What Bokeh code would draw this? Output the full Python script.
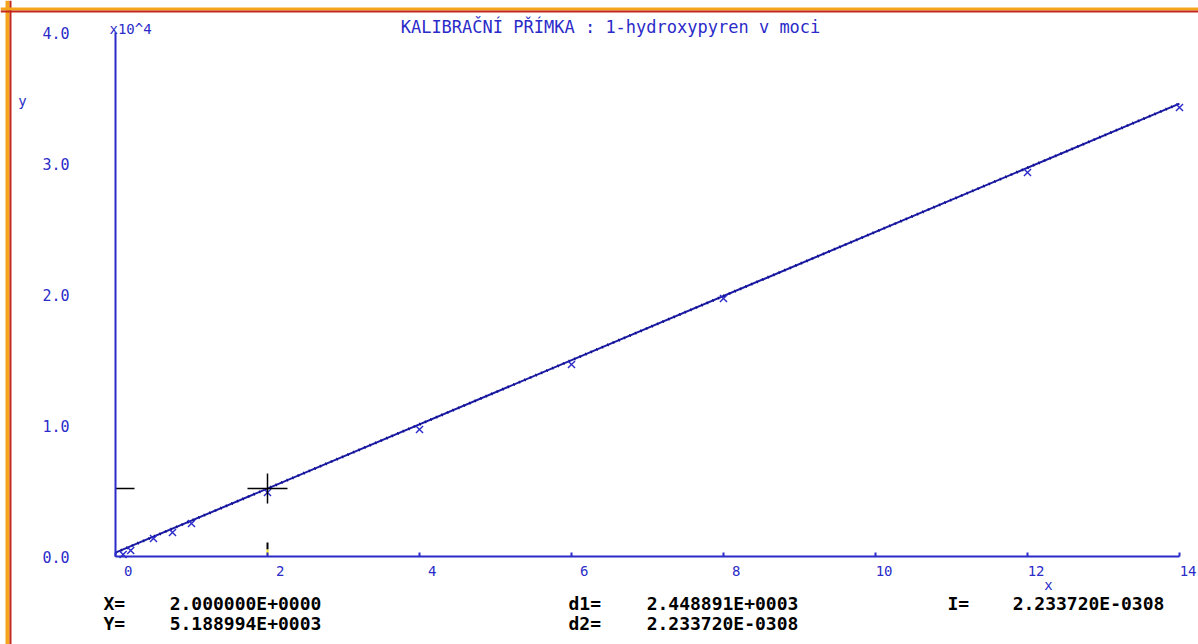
from math import pi

from bokeh.core.properties import value
from bokeh.embed import file_html
from bokeh.models import FixedTicker, LinearAxis, Range1d, Span
from bokeh.plotting import figure
from bokeh.resources import INLINE

# ---- calibration standards (concentration vs. detector response) ----
conc = [0.1, 0.2, 0.5, 0.75, 1.0, 2.0, 4.0, 6.0, 8.0, 12.0, 14.0]
signal = [150, 460, 1370, 1830, 2520, 4890, 9690, 14660, 19690, 29310, 34270]

# ---- regression slope and cursor readout ----
slope_d1 = 2448.891
cursor_x = 2.0
cursor_y = 5188.994
fit_x = [0.0, 14.0]

# ---- axis ticks and labels ----
x_ticks = [0, 2, 4, 6, 8, 10, 12, 14]
x_tick_labels = ["0", "2", "4", "6", "8", "10", "12", "14"]
y_ticks = [0, 10000, 20000, 30000, 40000]
y_tick_labels = ["0.0", "1.0", "2.0", "3.0", "4.0"]

title_text = "KALIBRAČNÍ PŘÍMKA : 1-hydroxypyren v moci"
readout_keys = ["X=", "Y=", "d1=", "d2=", "I="]
readout_values = ["2.000000E+0000", "5.188994E+0003", "2.448891E+0003",
                  "2.233720E-0308", "2.233720E-0308"]

# ---- canvas geometry (pixels) ----
W, H = 1198, 644
PX_X0, PX_PER_X = 115, 76.0          # x = 0 sits at 115 px, 76 px per unit
PX_Y0, PX_PER_Y = 556, 131.0 / 1e4   # y = 0 sits at 556 px, 131 px per 10^4


def sx(px):
    return (px - PX_X0) / PX_PER_X


def sy(py):
    return (PX_Y0 - py) / PX_PER_Y


BLUE = "#2b2bc9"
LINE_BLUE = "#1a1aa6"
ORANGE = "#f4a51c"
RED = "#c4281c"
MONO = value("DejaVu Sans Mono")

p = figure(width=W, height=H,
           x_range=Range1d(sx(0), sx(W)), y_range=Range1d(sy(H), sy(0)),
           x_axis_location=None, y_axis_location=None,
           toolbar_location=None, output_backend="svg", min_border=0,
           background_fill_color="white", border_fill_color="white")
p.outline_line_color = None
p.grid.visible = False

# axes crossing at the origin
xaxis = LinearAxis(fixed_location=0, ticker=FixedTicker(ticks=x_ticks),
                   bounds=(0, 14), axis_line_color=BLUE, axis_line_width=2,
                   major_tick_in=4, major_tick_out=0,
                   major_tick_line_color=BLUE, major_tick_line_width=2,
                   minor_tick_line_color=None,
                   major_label_overrides={t: "" for t in x_ticks},
                   major_label_text_alpha=0)
yaxis = LinearAxis(fixed_location=0, ticker=FixedTicker(ticks=y_ticks),
                   bounds=(0, 40000), axis_line_color=BLUE, axis_line_width=2,
                   major_tick_in=0, major_tick_out=0,
                   minor_tick_line_color=None,
                   major_label_overrides=dict(zip(y_ticks, y_tick_labels)),
                   major_label_standoff=46,
                   major_label_text_font="DejaVu Sans Mono",
                   major_label_text_font_size="15px",
                   major_label_text_color=BLUE)
p.add_layout(xaxis, "below")
p.add_layout(yaxis, "left")

# x tick labels, right-aligned a little past each tick
p.text(x=x_ticks, y=[0] * len(x_ticks), text=x_tick_labels,
       text_font=MONO, text_font_size="14px", text_color=BLUE,
       text_align="right", text_baseline="middle",
       x_offset=17, y_offset=14)

# regression line through the cursor point
fit_y = [cursor_y + slope_d1 * (x - cursor_x) for x in fit_x]
p.line(fit_x, fit_y, line_color=LINE_BLUE, line_width=2)
p.line(fit_x, fit_y, line_color="#0c0c88", line_width=3, line_dash="1 5")

# measured standards
p.scatter(conc, signal, marker="x", size=10, line_color=BLUE, line_width=1.4)

# cursor cross-hair
p.scatter([cursor_x], [cursor_y], marker="dash", size=40,
          line_color="black", line_width=1.5)
p.scatter([cursor_x], [cursor_y], marker="dash", size=30, angle=pi / 2,
          line_color="black", line_width=1.5)

# cursor marks on both axes
p.segment(x0=[0], y0=[cursor_y], x1=[19 / PX_PER_X], y1=[cursor_y],
          line_color="black", line_width=1.5)
p.segment(x0=[cursor_x], y0=[7 / PX_PER_Y], x1=[cursor_x], y1=[14 / PX_PER_Y],
          line_color="black", line_width=2)
p.segment(x0=[cursor_x], y0=[0], x1=[cursor_x], y1=[7 / PX_PER_Y],
          line_color="#f2e21a", line_width=2)

# title and axis annotations
p.text(x=[sx(610)], y=[sy(26)], text=[title_text], text_font=MONO,
       text_font_size="17px", text_color=BLUE,
       text_align="center", text_baseline="middle")
p.text(x=[sx(109)], y=[sy(28)], text=["x10^4"], text_font=MONO,
       text_font_size="14px", text_color=BLUE,
       text_align="left", text_baseline="middle")
p.text(x=[sx(22)], y=[sy(100)], text=["y"], text_font=MONO,
       text_font_size="14px", text_color=BLUE,
       text_align="center", text_baseline="middle")
p.text(x=[sx(1048)], y=[sy(584)], text=["x"], text_font=MONO,
       text_font_size="14px", text_color=BLUE,
       text_align="center", text_baseline="middle")

# numeric readout under the plot
key_px = [(103, 603), (103, 623), (568, 603), (568, 623), (947, 603)]
val_px = [(245, 603), (245, 623), (722, 603), (722, 623), (1088, 603)]
p.text(x=[sx(a) for a, _ in key_px], y=[sy(b) for _, b in key_px],
       text=readout_keys, text_font=MONO, text_font_size="18px",
       text_font_style="bold", text_color="black",
       text_align="left", text_baseline="middle")
p.text(x=[sx(a) for a, _ in val_px], y=[sy(b) for _, b in val_px],
       text=readout_values, text_font=MONO, text_font_size="18px",
       text_font_style="bold", text_color="black",
       text_align="center", text_baseline="middle")

# window frame on the left and top edges
p.add_layout(Span(location=sx(7), dimension="height",
                  line_color=ORANGE, line_width=4))
p.add_layout(Span(location=sx(10), dimension="height",
                  line_color=RED, line_width=2))
p.add_layout(Span(location=sy(8.5), dimension="width",
                  line_color=ORANGE, line_width=3))
p.add_layout(Span(location=sy(11), dimension="width",
                  line_color=RED, line_width=2))

open("out.html", "w").write(file_html(p, INLINE))
